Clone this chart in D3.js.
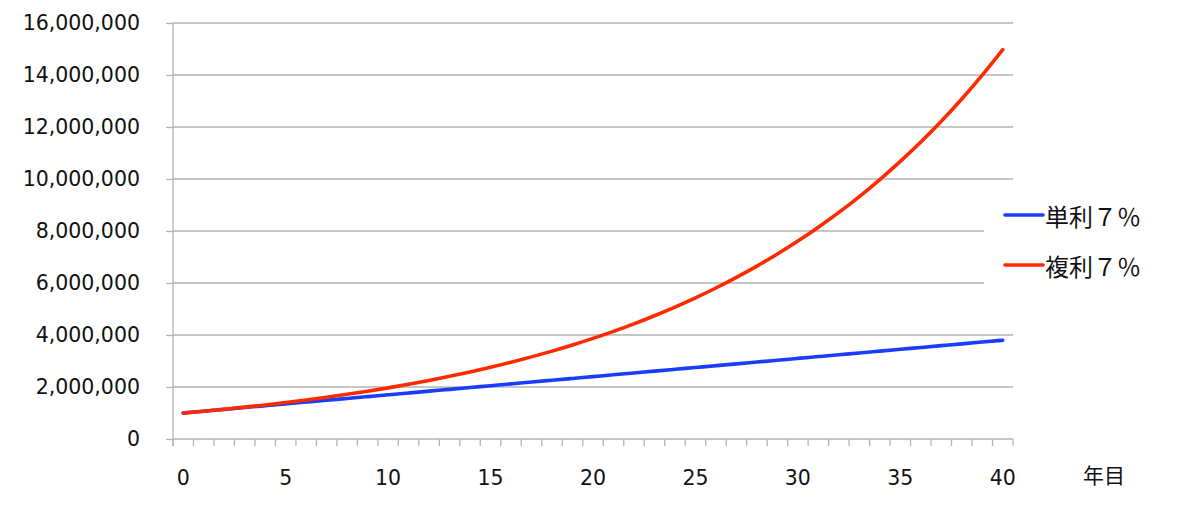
<!DOCTYPE html>
<html>
<head>
<meta charset="utf-8">
<script src="https://cdn.jsdelivr.net/npm/d3@7"></script>
<style>
  html, body { margin: 0; padding: 0; background: #fff; }
  svg { display: block; }
</style>
</head>
<body>
<svg id="chart" width="1200" height="509"></svg>
<script>
const years = d3.range(0, 41);
const simpleValues = [
  1000000, 1070000, 1140000, 1210000, 1280000, 1350000, 1420000, 1490000, 1560000, 1630000,
  1700000, 1770000, 1840000, 1910000, 1980000, 2050000, 2120000, 2190000, 2260000, 2330000,
  2400000, 2470000, 2540000, 2610000, 2680000, 2750000, 2820000, 2890000, 2960000, 3030000,
  3100000, 3170000, 3240000, 3310000, 3380000, 3450000, 3520000, 3590000, 3660000, 3730000,
  3800000
];
const compoundValues = [
  1000000, 1070000, 1144900, 1225043, 1310796, 1402552, 1500730, 1605781, 1718186, 1838459,
  1967151, 2104852, 2252192, 2409845, 2578534, 2759032, 2952164, 3158815, 3379932, 3616528,
  3869684, 4140562, 4430402, 4740530, 5072367, 5427433, 5807353, 6213868, 6648838, 7114257,
  7612255, 8145113, 8715271, 9325340, 9978114, 10676581, 11423942, 12223618, 13079271, 13994820,
  14974458
];
const yTicks = [0, 2000000, 4000000, 6000000, 8000000, 10000000, 12000000, 14000000, 16000000];
const xLabelYears = [0, 5, 10, 15, 20, 25, 30, 35, 40];
const seriesNames = ["単利７％", "複利７％"];
const xAxisTitle = "年目";

(function () {
const svg = d3.select("#chart");
const pLeft = 173, pRight = 1013, pTop = 23, pBottom = 439;
const grey = "#b3b3b3";
const blue = "#1a3cff";
const red = "#ff2a00";
const numFont = "'DejaVu Sans', Verdana, sans-serif";
const cjkFont = "'Noto Sans CJK JP', sans-serif";

const x = d3.scaleBand().domain(years).range([pLeft, pRight]).padding(0);
const y = d3.scaleLinear().domain([0, 16000000]).range([pBottom, pTop]);
const cx = d => x(d) + x.bandwidth() / 2;

// gridlines
const legendShort = [6000000, 8000000];
svg.append("g").selectAll("line").data(yTicks.filter(v => v > 0)).join("line")
  .attr("x1", pLeft).attr("x2", v => legendShort.includes(v) ? 984 : pRight)
  .attr("y1", v => y(v)).attr("y2", v => y(v))
  .attr("stroke", grey).attr("stroke-width", 1.3);

// y axis
const yAxis = d3.axisLeft(y).tickValues(yTicks).tickSize(7).tickPadding(26)
  .tickFormat(d3.format(","));
const gy = svg.append("g").attr("transform", `translate(${pLeft},0)`).call(yAxis);
gy.select(".domain").remove();
gy.selectAll(".tick line").attr("stroke", grey).attr("stroke-width", 1.3);
gy.selectAll(".tick text").attr("font-family", numFont).attr("font-size", 20.5).attr("fill", "#111");
svg.append("line").attr("x1", pLeft).attr("x2", pLeft).attr("y1", pTop).attr("y2", pBottom + 7)
  .attr("stroke", grey).attr("stroke-width", 1.3);

// x axis
svg.append("line").attr("x1", pLeft).attr("x2", pRight).attr("y1", pBottom).attr("y2", pBottom)
  .attr("stroke", grey).attr("stroke-width", 1.3);
const boundaries = years.map(d => x(d)).concat([pRight]);
svg.append("g").selectAll("line").data(boundaries).join("line")
  .attr("x1", d => d).attr("x2", d => d).attr("y1", pBottom).attr("y2", pBottom + 7)
  .attr("stroke", grey).attr("stroke-width", 1.3);
svg.append("g").selectAll("text").data(xLabelYears).join("text")
  .attr("x", d => cx(d)).attr("y", 485)
  .attr("text-anchor", "middle").attr("font-family", numFont).attr("font-size", 20.5).attr("fill", "#111")
  .text(d => d);
svg.append("text").attr("x", 1083).attr("y", 474).attr("dominant-baseline", "central")
  .attr("font-family", cjkFont).attr("font-size", 21).attr("fill", "#111").text(xAxisTitle);

// lines
const line = d3.line().x((d, i) => cx(years[i])).y(d => y(d)).curve(d3.curveMonotoneX);
svg.append("path").datum(simpleValues).attr("d", line).attr("fill", "none")
  .attr("stroke", blue).attr("stroke-width", 3.6).attr("stroke-linecap", "round");
svg.append("path").datum(compoundValues).attr("d", line).attr("fill", "none")
  .attr("stroke", red).attr("stroke-width", 3.6).attr("stroke-linecap", "round");

// legend
const legendColors = [blue, red];
const legendY = [215, 265];
seriesNames.forEach((name, i) => {
  svg.append("line").attr("x1", 1005).attr("x2", 1043).attr("y1", legendY[i]).attr("y2", legendY[i])
    .attr("stroke", legendColors[i]).attr("stroke-width", 3.6).attr("stroke-linecap", "round");
  svg.append("text").attr("x", 1045).attr("y", legendY[i]).attr("dominant-baseline", "central")
    .attr("font-family", cjkFont).attr("font-size", 24).attr("fill", "#111").text(name);
});
})();
</script>
</body>
</html>
